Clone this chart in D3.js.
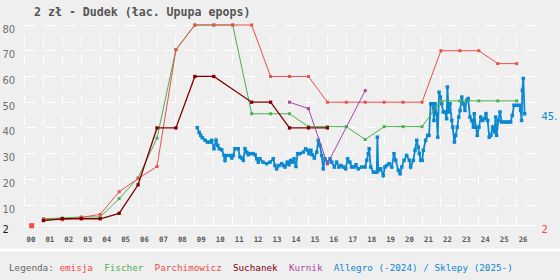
<!DOCTYPE html>
<html>
<head>
<meta charset="utf-8">
<script src="https://cdn.jsdelivr.net/npm/d3@7"></script>
<style>
  html, body { margin: 0; padding: 0; background: #efefef; }
  svg { display: block; }
</style>
</head>
<body>
<div class="chart"></div>
<script>
// Dudek 2 zl - price history per catalogue

var yearTicks = d3.range(2000, 2027);
var valueTicks = [10, 20, 30, 40, 50, 60, 70, 80];

var emisjaYears = [2000.38];
var emisjaValues = [2];

var fischerYears = d3.range(2001, 2027);
var fischerValues = [4.7, 5.0, 5.4, 5.4, 12.5, 20.6, 36, 70.5, 80, 80, 80, 45.5, 45.5, 45.5,
    40.5, 40.5, 40.5, 35.5, 40.5, 40.5, 40.5, 50.5, 50.5, 50.5, 50.5, 50.5];

var parchYears = d3.range(2001, 2027);
var parchValues = [4.5, 4.3, 5.2, 6.4, 15.2, 20.3, 25, 70.3, 80, 80, 80, 80, 60, 60,
    60, 50, 50, 50, 50, 50, 50, 70, 70, 70, 65, 65];

var suchanekYears = [2001, 2002, 2003, 2004, 2005, 2006, 2007, 2008, 2009, 2010, 2012, 2013, 2014, 2015, 2016];
var suchanekValues = [4.0, 4.7, 4.7, 4.7, 6.8, 17.9, 40, 40, 60, 60, 50, 50, 40, 40, 40];

var kurnikYears = [2014, 2015, 2016, 2018];
var kurnikValues = [50, 47.5, 26, 54.5];

var allegroYears = [2009.13,2009.23,2009.31,2009.39,2009.54,2009.66,2009.80,2009.89,2010.01,2010.12,
    2010.21,2010.29,2010.42,2010.54,2010.59,2010.68,2010.86,2010.95,2011.03,2011.12,
    2011.29,2011.38,2011.47,2011.56,2011.65,2011.74,2011.82,2011.91,2012.07,2012.18,
    2012.27,2012.35,2012.44,2012.60,2012.79,2012.97,2013.14,2013.23,2013.32,2013.44,
    2013.59,2013.67,2013.76,2013.88,2013.97,2014.06,2014.15,2014.24,2014.34,2014.43,
    2014.55,2014.73,2014.85,2014.96,2015.03,2015.13,2015.20,2015.31,2015.44,2015.52,
    2015.61,2015.70,2015.78,2015.87,2016.02,2016.14,2016.23,2016.37,2016.49,2016.61,
    2016.72,2016.84,2016.97,2017.07,2017.19,2017.28,2017.41,2017.51,2017.63,2017.81,
    2017.99,2018.08,2018.16,2018.21,2018.29,2018.43,2018.61,2018.64,2018.69,2018.82,
    2018.95,2019.04,2019.13,2019.26,2019.40,2019.52,2019.61,2019.75,2019.84,2019.93,
    2020.05,2020.19,2020.33,2020.40,2020.54,2020.63,2020.72,2020.80,2020.86,2020.93,
    2021.01,2021.07,2021.19,2021.30,2021.37,2021.46,2021.56,2021.63,2021.69,2021.77,
    2021.83,2021.90,2021.97,2022.04,2022.12,2022.21,2022.30,2022.34,2022.41,2022.48,
    2022.57,2022.62,2022.71,2022.78,2022.86,2022.94,2023.01,2023.10,2023.18,2023.27,
    2023.36,2023.44,2023.53,2023.62,2023.71,2023.76,2023.85,2023.92,2024.01,2024.10,
    2024.20,2024.29,2024.38,2024.47,2024.55,2024.64,2024.73,2024.82,2024.89,2024.94,
    2025.03,2025.12,2025.21,2025.33,2025.44,2025.56,2025.68,2025.77,2025.86,2026.00,
    2026.14,2026.21,2026.26,2026.30,2026.35,2026.42];
var allegroValues = [40.1,38.2,37.1,36.2,35.2,34.5,34.5,35.2,31.9,35.2,
    33.2,31.9,31.5,29.3,27.4,29.3,29.3,28.3,29.3,31.9,
    31.9,28.7,28.3,27.4,31.9,30.6,29.6,30.0,30.0,29.6,
    28.0,26.7,28.0,26.7,26.1,26.7,28.0,25.4,24.1,25.4,
    26.1,25.4,24.8,26.7,25.7,27.4,26.7,28.0,25.0,30.0,
    30.0,30.6,31.9,31.3,30.0,31.3,29.6,28.3,30.6,35.2,
    33.2,29.3,24.1,28.0,26.7,28.0,26.7,24.8,26.7,24.8,
    25.4,24.8,24.1,28.0,26.7,24.8,24.8,25.7,24.1,24.8,
    24.8,27.4,30.0,31.9,24.8,22.8,22.8,36.4,23.5,24.1,
    21.5,24.8,25.4,26.1,24.8,30.0,27.4,23.5,22.2,24.8,
    27.4,29.3,27.4,24.8,27.4,31.3,35.2,32.5,30.0,27.4,
    27.4,31.3,35.2,37.1,37.1,49.4,49.4,42.9,49.4,45.5,
    36.4,53.9,52.0,49.4,46.2,46.2,43.6,55.9,46.2,49.4,
    42.9,40.3,34.5,37.1,40.3,44.2,46.8,52.0,49.4,46.8,
    50.7,51.4,44.2,42.9,40.3,45.5,40.3,37.1,40.3,44.2,
    42.9,43.6,45.5,42.9,36.4,37.1,40.3,38.4,44.2,37.1,
    42.9,46.2,42.3,42.3,42.3,42.3,42.3,44.9,48.8,48.8,
    48.8,46.8,42.9,54.6,59.2,45.5];

var legendNames = ["emisja", "Fischer", "Parchimowicz", "Suchanek", "Kurnik", "Allegro (-2024) / Sklepy (2025-)"];
var legendColors = ["#ff4444", "#4caf50", "#e8504a", "#800000", "#aa44aa", "#0a88d0"];

var width = 560;
var height = 280;

var x = d3.scaleLinear().domain([2000, 2027]).range([24.5, 535.6]);
var y = d3.scaleLinear().domain([2, 80]).range([225.7, 25]);

var svg = d3.select(".chart").append("svg")
    .attr("width", width)
    .attr("height", height);

svg.append("rect")
    .attr("width", width)
    .attr("height", height)
    .attr("fill", "#efefef");

// title
svg.append("text")
    .attr("x", 34)
    .attr("y", 16)
    .attr("font-family", "DejaVu Sans Mono")
    .attr("font-weight", "bold")
    .attr("font-size", "11.6px")
    .attr("fill", "#555")
    .text("2 zł - Dudek (łac. Upupa epops)");

// grid
var grid = svg.append("g")
    .attr("stroke", "#fff")
    .attr("shape-rendering", "crispEdges");

grid.selectAll(".hgrid")
    .data(valueTicks)
    .enter().append("line")
        .attr("x1", x(2000))
        .attr("x2", x(2027))
        .attr("y1", function(d) { return y(d); })
        .attr("y2", function(d) { return y(d); })
        .attr("stroke-dasharray", "11,9");

grid.selectAll(".vgrid")
    .data(yearTicks)
    .enter().append("line")
        .attr("x1", function(d) { return x(d); })
        .attr("x2", function(d) { return x(d); })
        .attr("y1", y(2))
        .attr("y2", y(80))
        .attr("stroke-dasharray", "11,9");

grid.append("line")
    .attr("x1", x(2000))
    .attr("x2", x(2027))
    .attr("y1", y(2))
    .attr("y2", y(2));

// y labels
svg.selectAll(".ylabel")
    .data(valueTicks)
    .enter().append("text")
        .attr("x", 2.5)
        .attr("y", function(d) { return y(d) + 7.5; })
        .attr("font-family", "DejaVu Sans")
        .attr("font-size", "10px")
        .attr("fill", "#707070")
        .text(function(d) { return d; });

svg.append("text")
    .attr("x", 2.5)
    .attr("y", y(2) + 7.5)
    .attr("font-family", "DejaVu Sans")
    .attr("font-size", "10px")
    .attr("fill", "#222")
    .text("2");

// x labels
svg.selectAll(".xlabel")
    .data(yearTicks)
    .enter().append("text")
        .attr("x", function(d) { return x(d) + 2; })
        .attr("y", 242)
        .attr("font-family", "DejaVu Sans Mono")
        .attr("font-weight", "bold")
        .attr("font-size", "7.4px")
        .attr("fill", "#5a5a5a")
        .text(function(d) { return d3.format("02")(d % 100); });

function drawSeries(years, values, color, lineWidth, size) {
    var pts = d3.zip(years, values);
    var line = d3.line()
        .x(function(d) { return x(d[0]); })
        .y(function(d) { return y(d[1]); });
    var g = svg.append("g");
    g.append("path")
        .datum(pts)
        .attr("fill", "none")
        .attr("stroke", color)
        .attr("stroke-width", lineWidth)
        .attr("d", line);
    g.selectAll("rect")
        .data(pts)
        .enter().append("rect")
            .attr("x", function(d) { return x(d[0]) - size / 2; })
            .attr("y", function(d) { return y(d[1]) - size / 2; })
            .attr("width", size)
            .attr("height", size)
            .attr("fill", color);
}

drawSeries(allegroYears, allegroValues, legendColors[5], 1.8, 3.5);
drawSeries(fischerYears, fischerValues, legendColors[1], 1, 3);
drawSeries(parchYears, parchValues, legendColors[2], 1, 3);
drawSeries(suchanekYears, suchanekValues, legendColors[3], 1.3, 3.3);
drawSeries(kurnikYears, kurnikValues, legendColors[4], 1, 3);
drawSeries(emisjaYears, emisjaValues, legendColors[0], 0, 5);

// last values on the right
var lastAllegro = allegroValues[allegroValues.length - 1];
svg.append("text")
    .attr("x", 541.5)
    .attr("y", y(lastAllegro) + 6.5)
    .attr("font-family", "DejaVu Sans")
    .attr("font-size", "10px")
    .attr("fill", legendColors[5])
    .text(String(Math.floor(lastAllegro)) + ".");

svg.append("text")
    .attr("x", 541.5)
    .attr("y", y(emisjaValues[0]) + 7.5)
    .attr("font-family", "DejaVu Sans")
    .attr("font-size", "10px")
    .attr("fill", legendColors[0])
    .text(emisjaValues[0]);

// legend strip
svg.append("rect")
    .attr("x", 0)
    .attr("y", 248.5)
    .attr("width", width)
    .attr("height", 3)
    .attr("fill", "#fff");

var legend = svg.append("g")
    .attr("font-family", "DejaVu Sans Mono")
    .attr("font-size", "9.3px");

var lx = 9;
var head = legend.append("text")
    .attr("x", lx)
    .attr("y", 271)
    .attr("fill", "#666")
    .text("Legenda:");
lx += head.node().getComputedTextLength() + 5.6;

legendNames.forEach(function(name, i) {
    var t = legend.append("text")
        .attr("x", lx)
        .attr("y", 271)
        .attr("fill", legendColors[i])
        .text(name);
    lx += t.node().getComputedTextLength() + 11.2;
});
</script>
</body>
</html>
